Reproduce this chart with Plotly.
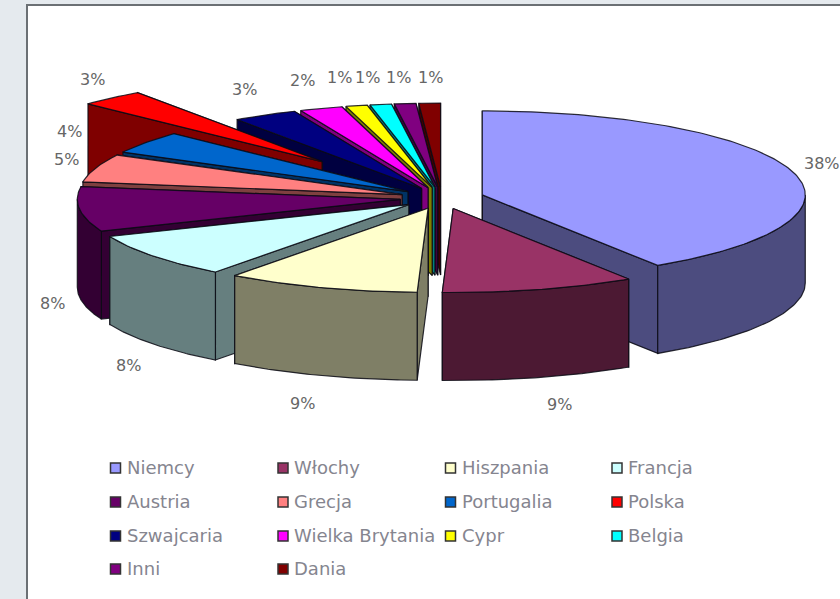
import numpy as np
import plotly.graph_objects as go

categories = ["Niemcy", "Włochy", "Hiszpania", "Francja", "Austria", "Grecja", "Portugalia",
              "Polska", "Szwajcaria", "Wielka Brytania", "Cypr", "Belgia", "Inni", "Dania"]
values = [38, 9, 9, 8, 8, 5, 4, 3, 3, 2, 1, 1, 1, 1]
top_colors = ["#9999FF", "#993366", "#FFFFCC", "#CCFFFF", "#660066", "#FF8080", "#0066CC",
              "#FF0000", "#000080", "#FF00FF", "#FFFF00", "#00FFFF", "#800080", "#800000"]
legend_order = categories
label_pos = [(822, 163), (559, 404), (302, 403), (128, 365), (52, 303), (66, 159), (69, 131),
             (92, 79), (244, 89), (302, 80), (339, 77), (367, 77), (398, 77), (430, 77)]

CX, CY, A, B, DEPTH, EXPLODE = 442, 198, 323, 84, 88, 0.13
POLSKA_EXPLODE = 0.57
LEGEND_X = [115.5, 283, 450.5, 617]
LEGEND_Y = [468, 502, 536, 569]
FONT = "DejaVu Sans"


def shade(hex_color, f=0.5):
    r, g, b = (int(hex_color[i:i + 2], 16) for i in (1, 3, 5))
    return f"rgb({int(r * f)},{int(g * f)},{int(b * f)})"


def polar(theta, cx, cy):
    return cx + A * np.sin(theta), cy - B * np.cos(theta)


total = sum(values)
edges = np.cumsum([0] + values) / total * 2 * np.pi
slices = []
for i, name in enumerate(categories):
    t0, t1 = edges[i], edges[i + 1]
    mid = (t0 + t1) / 2
    e = POLSKA_EXPLODE if name == "Polska" else EXPLODE
    cx = CX + e * A * np.sin(mid)
    cy = CY - e * B * np.cos(mid)
    slices.append((abs(mid - np.pi), i, t0, t1, cx, cy))

fig = go.Figure()


def face(xs, ys, color, name, outline="rgba(10,10,20,0.85)"):
    fig.add_trace(go.Scatter(x=list(xs), y=list(ys), mode="lines", fill="toself", fillcolor=color,
                             line=dict(color=outline, width=1.2), name=name, hoverinfo="name"))


for _, i, t0, t1, cx, cy in sorted(slices, key=lambda s: -s[0]):
    name, top = categories[i], top_colors[i]
    dark = shade(top)
    # radial walls
    for t in (t1, t0):
        x, y = polar(t, cx, cy)
        face([cx, x, x, cx, cx], [cy, y, y + DEPTH, cy + DEPTH, cy], dark, name)
    # outer wall: visible front part of the arc only
    lo, hi = max(t0, np.pi / 2), min(t1, 3 * np.pi / 2)
    if lo < hi:
        th = np.linspace(lo, hi, 60)
        x, y = polar(th, cx, cy)
        face(np.r_[x, x[::-1], x[0]], np.r_[y, y[::-1] + DEPTH, y[0]], dark, name)
    # top face
    th = np.linspace(t0, t1, max(8, int((t1 - t0) * 60)))
    x, y = polar(th, cx, cy)
    face(np.r_[cx, x, cx], np.r_[cy, y, cy], top, name)

# percentage labels
annotations = []
for v, (x, y) in zip(values, label_pos):
    annotations.append(dict(x=x, y=y, text=f"{v}%", showarrow=False, xref="x", yref="y",
                            font=dict(family=FONT, size=16, color="#666666")))

# legend
for k, name in enumerate(legend_order):
    col, row = k % 4, k // 4
    lx, ly = LEGEND_X[col], LEGEND_Y[row]
    fig.add_trace(go.Scatter(x=[lx], y=[ly], mode="markers", name=name,
                             marker=dict(symbol="square", size=10, color=top_colors[k],
                                         line=dict(color="#333333", width=1.5))))
    annotations.append(dict(x=lx + 9, y=ly - 1, text=name, showarrow=False, xanchor="left",
                            xref="x", yref="y", font=dict(family=FONT, size=18, color="#85858f")))

fig.update_layout(
    width=840, height=599, margin=dict(l=0, r=0, t=0, b=0), autosize=False,
    paper_bgcolor="#E5EAEE", plot_bgcolor="#E5EAEE", showlegend=False,
    xaxis=dict(range=[0, 840], visible=False, fixedrange=True),
    yaxis=dict(range=[599, 0], visible=False, fixedrange=True),
    annotations=annotations,
    shapes=[dict(type="rect", x0=27, x1=845, y0=5, y1=605, layer="below", xref="x", yref="y",
                 fillcolor="#FFFFFF", line=dict(color="#6b7074", width=2))],
)
fig.write_html("out.html", config=dict(displayModeBar=False),
               post_script="document.body.style.margin='0';document.documentElement.style.overflow='hidden';")
